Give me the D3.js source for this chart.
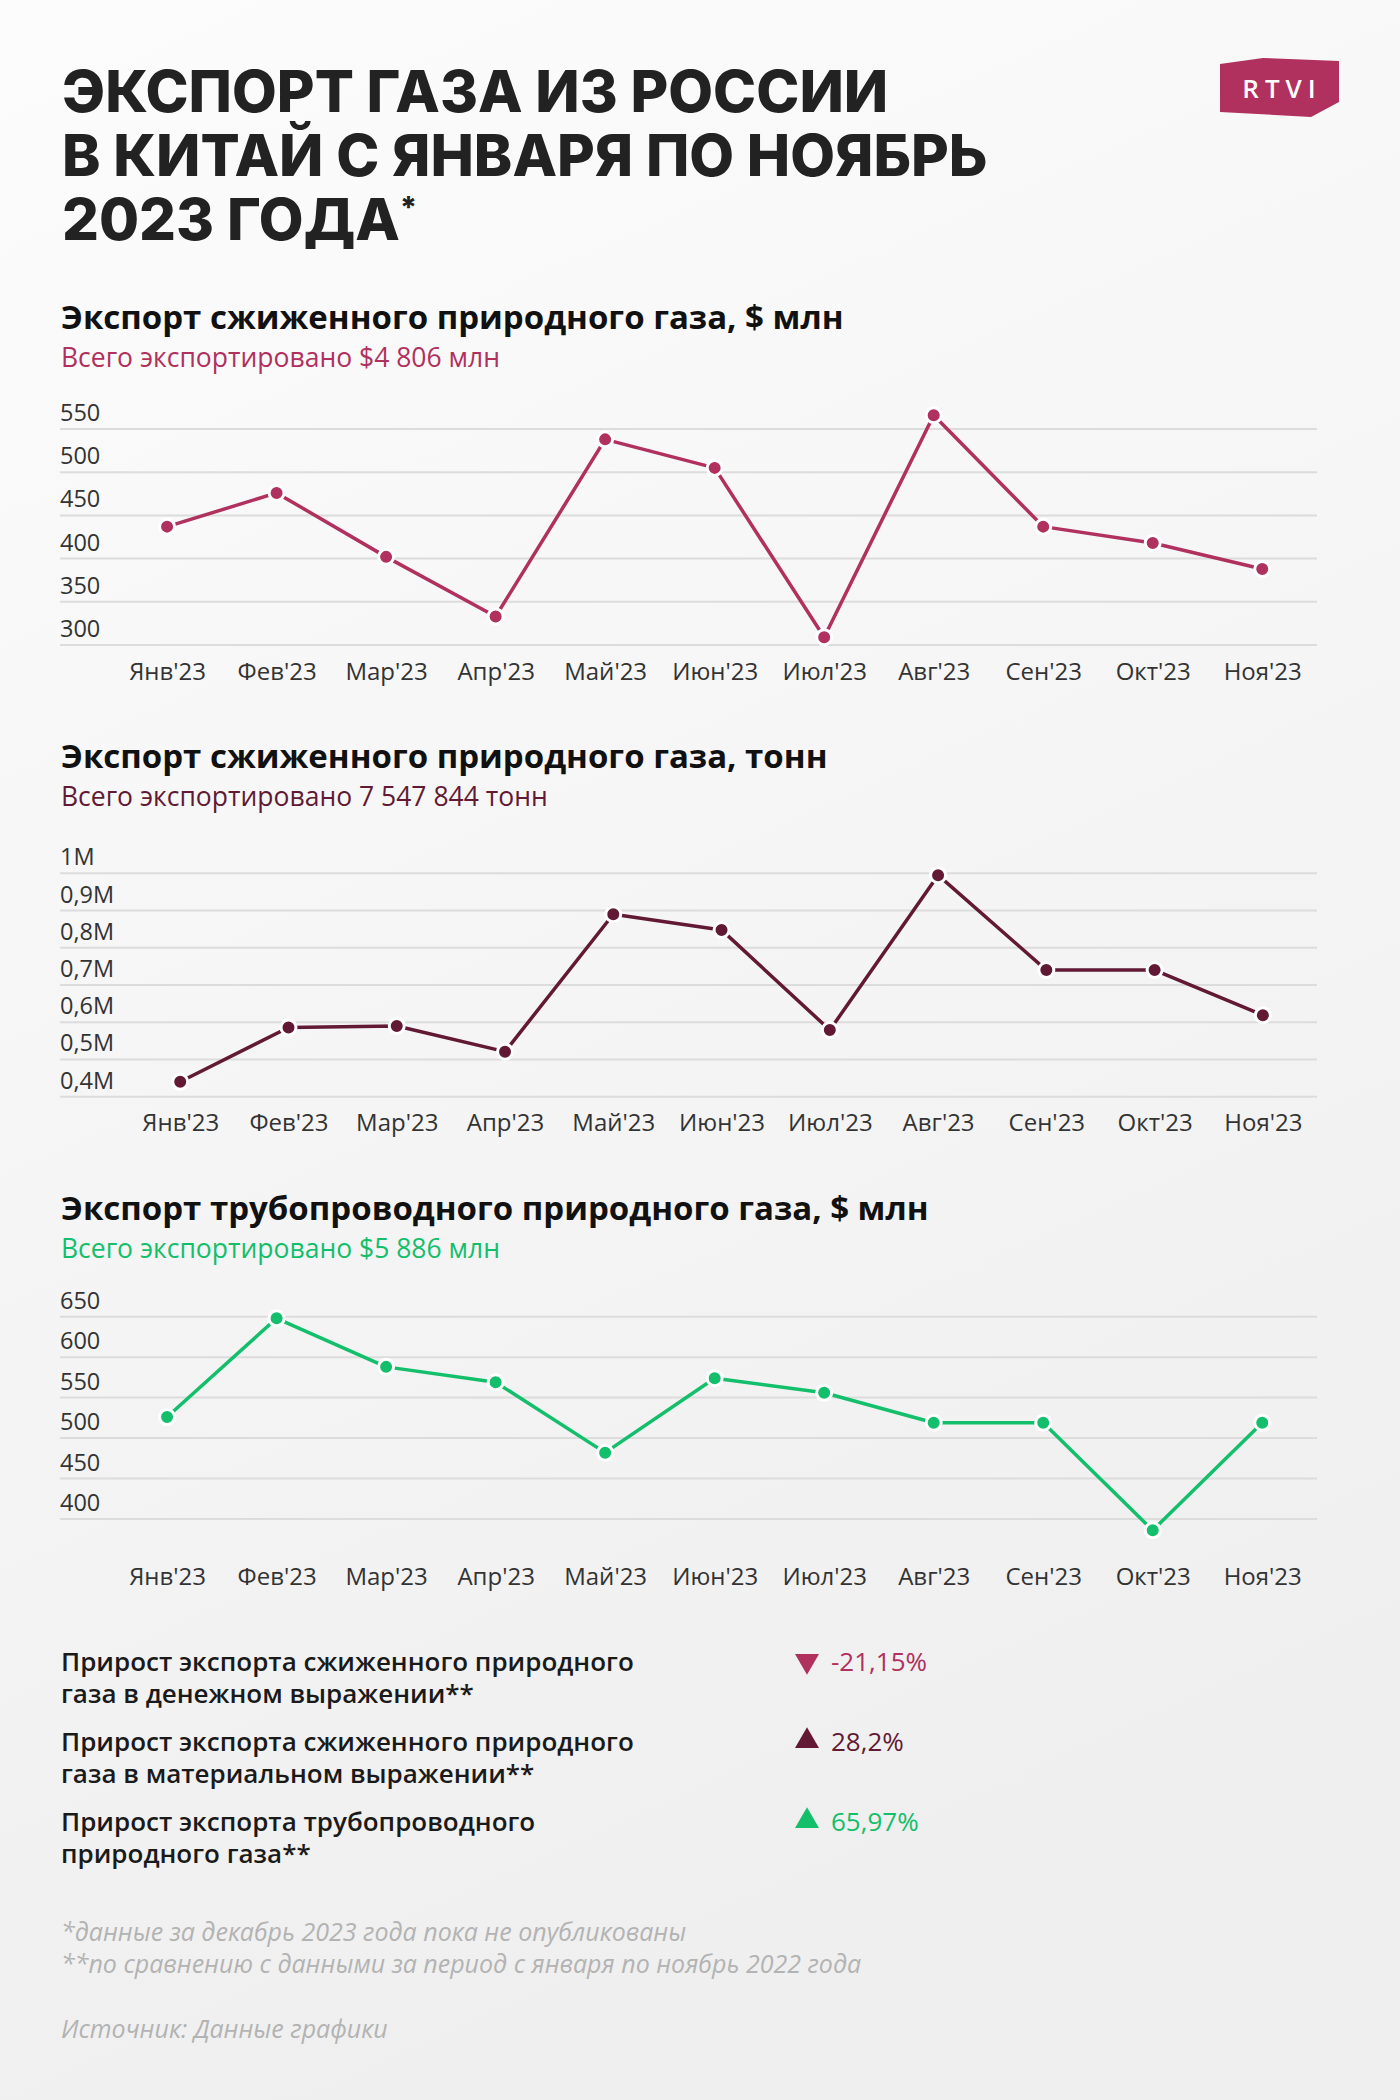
<!DOCTYPE html>
<html>
<head>
<meta charset="utf-8">
<title>Экспорт газа из России в Китай</title>
<script src="https://d3js.org/d3.v7.min.js"></script>
<style>
  html, body { margin: 0; padding: 0; }
  body { width: 1400px; height: 2100px; overflow: hidden; }
</style>
</head>
<body>
<div id="chart"></div>
<script>

const months = ["Янв'23", "Фев'23", "Мар'23", "Апр'23", "Май'23", "Июн'23", "Июл'23", "Авг'23", "Сен'23", "Окт'23", "Ноя'23"];

// СПГ, $ млн
const lngUsd = [437, 476, 402, 333, 538, 505, 309, 566, 437, 418, 388];
// СПГ, тонн
const lngTons = [440000, 586000, 590000, 521000, 890000, 848000, 579000, 995000, 740000, 740000, 619000];
// трубопроводный газ, $ млн
const pipeUsd = [526, 648, 588, 569, 482, 574, 556, 519, 519, 386, 519];

const ticksUsd = [300, 350, 400, 450, 500, 550];
const ticksTons = [400000, 500000, 600000, 700000, 800000, 900000, 1000000];
const ticksPipe = [400, 450, 500, 550, 600, 650];

const growthLabels = [
  ["Прирост экспорта сжиженного природного", "газа в денежном выражении**"],
  ["Прирост экспорта сжиженного природного", "газа в материальном выражении**"],
  ["Прирост экспорта трубопроводного", "природного газа**"]
];
const growthValues = ["-21,15%", "28,2%", "65,97%"];
const growthUp = [false, true, true];

const magenta = "#b0305e";
const maroon = "#621a34";
const green = "#13bf6b";

const width = 1400, height = 2100;
const left = 60, right = 1317;

const svg = d3.create("svg")
    .attr("width", width)
    .attr("height", height)
    .attr("viewBox", [0, 0, width, height])
    .attr("font-family", "'Open Sans', sans-serif");

// attach early so text can be measured
document.getElementById("chart").appendChild(svg.node());

const defs = svg.append("defs");
const bg = defs.append("linearGradient")
    .attr("id", "bg").attr("x1", 0).attr("y1", 0).attr("x2", 0.3).attr("y2", 1);
bg.append("stop").attr("offset", "0%").attr("stop-color", "#fcfcfc");
bg.append("stop").attr("offset", "100%").attr("stop-color", "#efefef");
svg.append("rect").attr("width", width).attr("height", height).attr("fill", "url(#bg)");

// header
const title = svg.append("text")
    .attr("font-family", "Inter, sans-serif")
    .attr("font-weight", 800)
    .attr("font-size", 58)
    .attr("fill", "#222");
["ЭКСПОРТ ГАЗА ИЗ РОССИИ", "В КИТАЙ С ЯНВАРЯ ПО НОЯБРЬ", "2023 ГОДА"].forEach((t, i) => {
  title.append("tspan").attr("x", 62).attr("y", 112 + i * 64).text(t);
  if (i === 2) title.append("tspan").attr("font-size", 30).attr("dy", -22).text("*");
});

// logo
svg.append("path")
    .attr("d", "M1220,64 L1263,58 L1339,61 L1339,102 L1311,117 L1220,112 Z")
    .attr("fill", magenta);
svg.append("text")
    .attr("x", 1282).attr("y", 98)
    .attr("text-anchor", "middle")
    .attr("font-size", 26)
    .attr("font-weight", 600)
    .attr("letter-spacing", 6)
    .attr("fill", "#fff")
    .text("RTVI");

const charts = [
  { title: "Экспорт сжиженного природного газа, $ млн",
    sub: "Всего экспортировано $4 806 млн",
    color: magenta, data: lngUsd, ticks: ticksUsd,
    fmt: d => d, top: 329, y0: 645, y1: 429, axisY: 681 },
  { title: "Экспорт сжиженного природного газа, тонн",
    sub: "Всего экспортировано 7 547 844 тонн",
    color: maroon, data: lngTons, ticks: ticksTons,
    fmt: d => d === 1000000 ? "1M" : "0," + (d / 100000) + "M", top: 768, y0: 1096.7, y1: 873.3, axisY: 1132 },
  { title: "Экспорт трубопроводного природного газа, $ млн",
    sub: "Всего экспортировано $5 886 млн",
    color: green, data: pipeUsd, ticks: ticksPipe,
    fmt: d => d, top: 1220, y0: 1519, y1: 1316.7, axisY: 1586 }
];

charts.forEach(c => {
  const g = svg.append("g");

  g.append("text")
      .attr("x", 61).attr("y", c.top)
      .attr("font-size", 33).attr("font-weight", 700).attr("fill", "#111")
      .text(c.title);
  g.append("text")
      .attr("x", 61).attr("y", c.top + 38)
      .attr("font-size", 26.5).attr("fill", c.color)
      .text(c.sub);

  const y = d3.scaleLinear()
      .domain([c.ticks[0], c.ticks[c.ticks.length - 1]])
      .range([c.y0, c.y1]);

  // tick labels sit above the grid lines
  const tl = g.append("g").attr("font-size", 23.5).attr("fill", "#333");
  tl.selectAll("text")
    .data(c.ticks)
    .join("text")
      .attr("x", left)
      .attr("y", d => y(d) - 8)
      .text(c.fmt);
  const labelW = d3.max(tl.selectAll("text").nodes(), n => n.getComputedTextLength());

  g.append("g")
    .selectAll("line")
    .data(c.ticks)
    .join("line")
      .attr("x1", left).attr("x2", right)
      .attr("y1", d => y(d)).attr("y2", d => y(d))
      .attr("stroke", "#dcdcdc")
      .attr("stroke-width", 2);

  const x = d3.scalePoint()
      .domain(months)
      .range([left + labelW + 12, right])
      .padding(0.5);

  const xAxis = d3.axisBottom(x).tickSize(0).tickPadding(0);
  g.append("g")
      .attr("transform", `translate(0,${c.axisY - 18})`)
      .call(xAxis)
      .call(a => a.select(".domain").remove())
      .call(a => a.selectAll("text")
          .attr("font-family", "'Open Sans', sans-serif")
          .attr("font-size", 24)
          .attr("fill", "#333"));

  const line = d3.line()
      .x((d, i) => x(months[i]))
      .y(d => y(d));

  g.append("path")
      .datum(c.data)
      .attr("d", line)
      .attr("fill", "none")
      .attr("stroke", c.color)
      .attr("stroke-width", 3.5)
      .attr("stroke-linejoin", "round");

  g.append("g")
    .selectAll("circle")
    .data(c.data)
    .join("circle")
      .attr("cx", (d, i) => x(months[i]))
      .attr("cy", d => y(d))
      .attr("r", 7.5)
      .attr("fill", c.color)
      .attr("stroke", "#fff")
      .attr("stroke-width", 3);
});

// growth summary
const colors = [magenta, maroon, green];
growthLabels.forEach((lines, i) => {
  const top = 1671 + i * 80;
  const t = svg.append("text")
      .attr("font-size", 26).attr("font-weight", 600).attr("fill", "#1a1a1a");
  lines.forEach((l, j) => t.append("tspan").attr("x", 61).attr("y", top + j * 32).text(l));

  svg.append("path")
      .attr("d", d3.symbol(d3.symbolTriangle, 250)())
      .attr("transform", `translate(807,${top - 10}) rotate(${growthUp[i] ? 0 : 180})`)
      .attr("fill", colors[i]);
  svg.append("text")
      .attr("x", 831).attr("y", top)
      .attr("font-size", 26).attr("fill", colors[i])
      .text(growthValues[i]);
});

// footnotes
const notes = svg.append("g")
    .attr("font-size", 25).attr("font-style", "italic").attr("fill", "#b3b3b3");
notes.append("text").attr("x", 61).attr("y", 1941).text("*данные за декабрь 2023 года пока не опубликованы");
notes.append("text").attr("x", 61).attr("y", 1973).text("**по сравнению с данными за период с января по ноябрь 2022 года");
notes.append("text").attr("x", 61).attr("y", 2038).text("Источник: Данные графики");

</script>
</body>
</html>
